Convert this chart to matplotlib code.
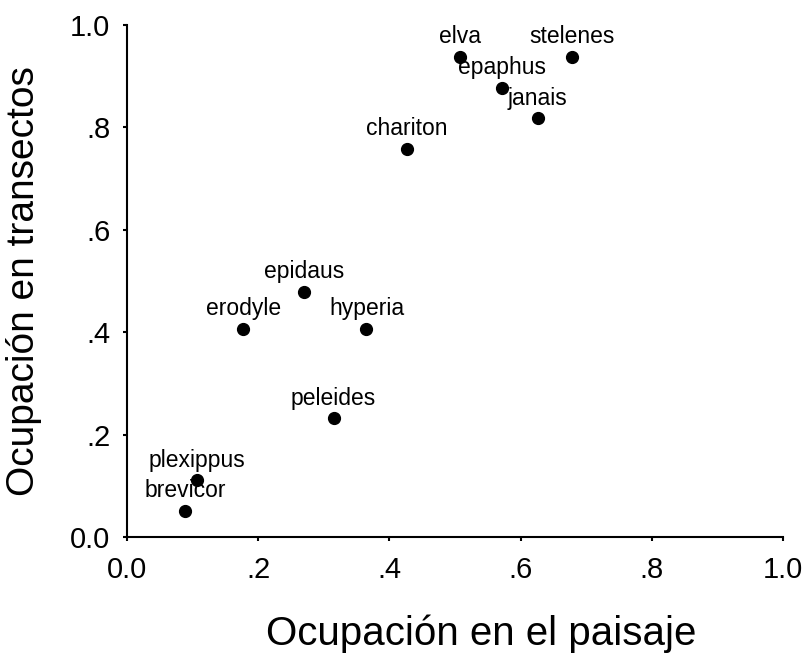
import matplotlib
matplotlib.use("Agg")
import matplotlib.pyplot as plt

# Occupancy per species: landscape (x) vs. transects (y)
species = ["brevicor", "plexippus", "erodyle", "epidaus", "hyperia",
           "peleides", "chariton", "elva", "stelenes", "epaphus", "janais"]
ocup_paisaje = [0.089, 0.107, 0.177, 0.270, 0.365,
                0.315, 0.427, 0.508, 0.678, 0.571, 0.626]
ocup_transectos = [0.051, 0.111, 0.406, 0.479, 0.406,
                   0.232, 0.758, 0.9375, 0.9375, 0.877, 0.818]

ticks = [0.0, 0.2, 0.4, 0.6, 0.8, 1.0]
tick_labels = ["0.0", ".2", ".4", ".6", ".8", "1.0"]

plt.rcParams["font.family"] = ["Liberation Sans", "DejaVu Sans"]

fig = plt.figure(figsize=(8.08, 6.6), dpi=100)
ax = fig.add_axes([127 / 808, 123 / 660, 656 / 808, 512 / 660])

ax.plot(ocup_paisaje, ocup_transectos, "o", color="black", ms=8.5,
        clip_on=False)
for name, x, y in zip(species, ocup_paisaje, ocup_transectos):
    ax.annotate(name, (x, y), xytext=(0, 14.5), textcoords="offset points",
                ha="center", va="center", fontsize=16.5)

ax.set_xlim(0, 1)
ax.set_ylim(0, 1)
ax.set_xticks(ticks)
ax.set_xticklabels(tick_labels)
ax.set_yticks(ticks)
ax.set_yticklabels(tick_labels)
ax.tick_params(labelsize=21, length=3, width=1.5, pad=9)
ax.tick_params(axis="x", pad=11)

for side in ("top", "right"):
    ax.spines[side].set_visible(False)
for side in ("left", "bottom"):
    ax.spines[side].set_linewidth(1.5)

ax.set_xlabel("Ocupación en el paisaje", fontsize=29)
ax.xaxis.set_label_coords(0.54, -0.152)
ax.set_ylabel("Ocupación en transectos", fontsize=28, labelpad=20)

fig.savefig("out.png", dpi=100)
